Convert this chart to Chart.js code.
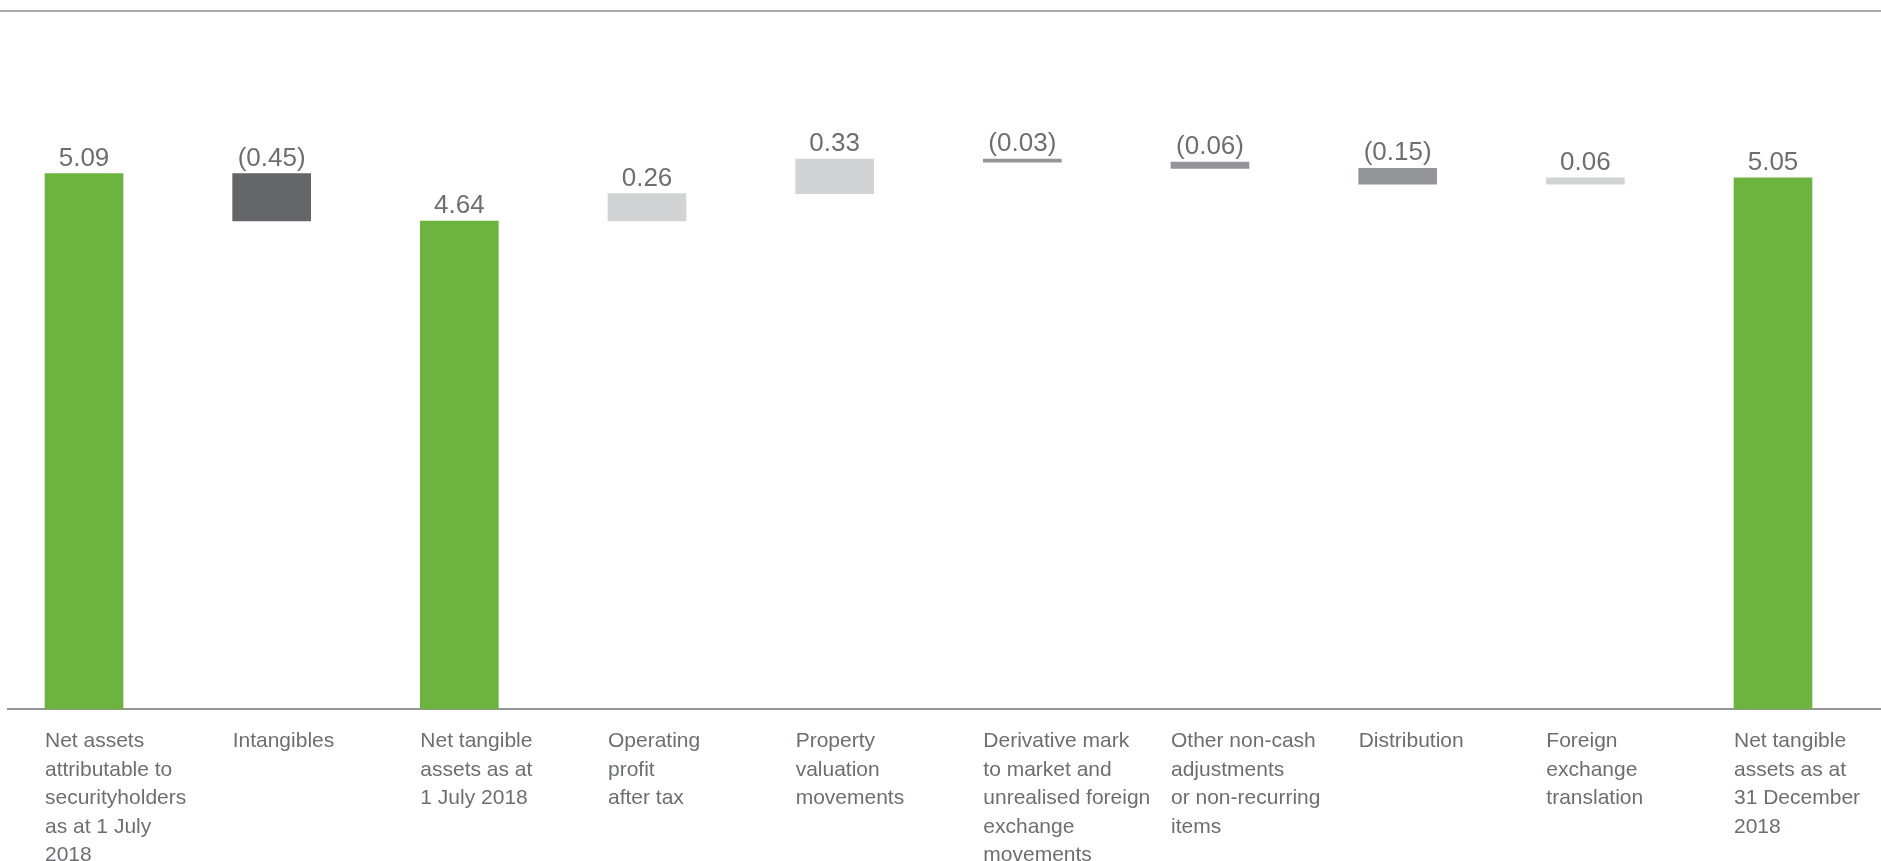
<!DOCTYPE html>
<html>
<head>
<meta charset="utf-8">
<script src="https://cdn.jsdelivr.net/npm/chart.js@4.4.0/dist/chart.umd.min.js"></script>
<style>
  html, body { margin: 0; padding: 0; background: #fff; }
  #wrap { position: relative; width: 1881px; height: 861px; }
</style>
</head>
<body>
<div id="wrap"><canvas id="nta-chart"></canvas></div>
<script>
const categories = [
  ['Net assets', 'attributable to', 'securityholders', 'as at 1 July', '2018'],
  ['Intangibles'],
  ['Net tangible', 'assets as at', '1 July 2018'],
  ['Operating', 'profit', 'after tax'],
  ['Property', 'valuation', 'movements'],
  ['Derivative mark', 'to market and', 'unrealised foreign', 'exchange', 'movements'],
  ['Other non-cash', 'adjustments', 'or non-recurring', 'items'],
  ['Distribution'],
  ['Foreign', 'exchange', 'translation'],
  ['Net tangible', 'assets as at', '31 December', '2018']
]

// per-security values; totals start from zero, the rest move the running total
const values = [5.09, -0.45, 4.64, 0.26, 0.33, -0.03, -0.06, -0.15, 0.06, 5.05]
const isTotal = [true, false, true, false, false, false, false, false, false, true]
const valueLabels = ['5.09', '(0.45)', '4.64', '0.26', '0.33', '(0.03)', '(0.06)', '(0.15)', '0.06', '5.05']

const barColors = [
  '#6cb33f', '#636569', '#6cb33f', '#d1d3d4', '#d1d3d4',
  '#939598', '#939598', '#939598', '#d1d3d4', '#6cb33f'
]

const textColor = '#6d6e71'
const fontFamily = '"Liberation Sans", Arial, sans-serif'
const barWidth = 78

function buildRanges() {
  const ranges = []
  let running = 0
  values.forEach((v, i) => {
    if (isTotal[i]) {
      ranges.push([0, v])
      running = v
    } else {
      ranges.push([running, running + v])
      running += v
    }
  })
  return ranges
}

// value printed just above the upper end of each bar
const barLabels = {
  id: 'barLabels',
  afterDatasetsDraw(chart) {
    const ctx = chart.ctx
    const meta = chart.getDatasetMeta(0)
    ctx.save()
    ctx.font = `26px ${fontFamily}`
    ctx.fillStyle = textColor
    ctx.textAlign = 'center'
    ctx.textBaseline = 'alphabetic'
    meta.data.forEach((bar, i) => {
      const top = Math.min(bar.y, bar.base)
      ctx.fillText(valueLabels[i], bar.x, top - 8)
    })
    ctx.restore()
  }
}

// thin rules: one across the top of the page, one along the zero line
const rules = {
  id: 'rules',
  beforeDatasetsDraw(chart) {
    const ctx = chart.ctx
    const y0 = chart.scales.y.getPixelForValue(0)
    ctx.save()
    ctx.lineWidth = 2
    ctx.strokeStyle = '#a7a9ac'
    ctx.beginPath()
    ctx.moveTo(0, 11)
    ctx.lineTo(chart.width, 11)
    ctx.stroke()
    ctx.strokeStyle = '#939598'
    ctx.beginPath()
    ctx.moveTo(7, y0)
    ctx.lineTo(chart.width, y0)
    ctx.stroke()
    ctx.restore()
  }
}

new Chart('nta-chart', {
  type: 'bar',
  data: {
    labels: categories,
    datasets: [{
      data: buildRanges(),
      backgroundColor: barColors,
      borderWidth: 0,
      barThickness: barWidth,
      clip: false
    }]
  },
  options: {
    responsive: true,
    maintainAspectRatio: false,
    animation: false,
    layout: { padding: { left: 84, right: 108, top: 78, bottom: 0 } },
    plugins: {
      legend: { display: false },
      tooltip: { enabled: false }
    },
    scales: {
      x: {
        offset: false,
        grid: { display: false },
        border: { display: false },
        ticks: {
          autoSkip: false,
          maxRotation: 0,
          minRotation: 0,
          align: 'start',
          labelOffset: -barWidth / 2,
          padding: 10,
          color: textColor,
          font: { family: fontFamily, size: 21, lineHeight: 1.357 }
        },
        afterFit(scale) {
          scale.height = 152
          scale.paddingLeft = 0
          scale.paddingRight = 0
        }
      },
      y: {
        display: false,
        min: 0,
        max: 6
      }
    }
  },
  plugins: [rules, barLabels]
})
</script>
</body>
</html>
